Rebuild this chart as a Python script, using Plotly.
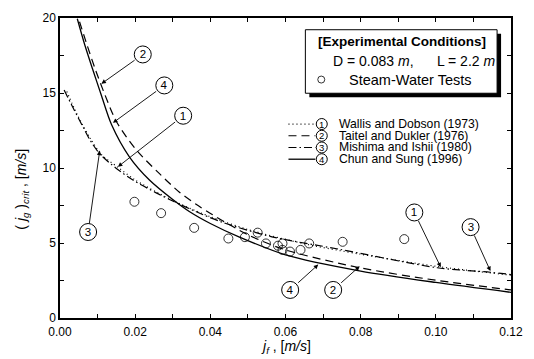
import plotly.graph_objects as go

# ---------------- data ----------------
jf_exp = [0.0198, 0.0269, 0.0357, 0.0448, 0.0492, 0.0526, 0.0548, 0.0580, 0.0592, 0.0592,
          0.0612, 0.0640, 0.0663, 0.0752, 0.0916]
jg_exp = [7.75, 6.99, 6.01, 5.30, 5.39, 5.69, 4.97, 4.82, 4.97, 4.54,
          4.43, 4.54, 4.97, 5.08, 5.26]

# (1) Wallis and Dobson (1973)
wd_x = [0.0018, 0.0045, 0.0080, 0.0110, 0.0154, 0.0200, 0.0260, 0.0320, 0.0400, 0.0500,
        0.0650, 0.0800, 0.1000, 0.1200]
wd_y = [15.1, 13.6, 12.0, 10.9, 10.05, 9.2, 8.35, 7.6, 6.75, 5.9,
        4.95, 4.25, 3.45, 2.85]
# (2) Taitel and Dukler (1976)
td_x = [0.0052, 0.0072, 0.0095, 0.0120, 0.0150, 0.0203, 0.0264, 0.0317, 0.0361, 0.0405,
        0.0500, 0.0600, 0.0800, 0.1000, 0.1200]
td_y = [19.75, 18.2, 16.5, 14.85, 13.1, 11.2, 9.64, 8.4, 7.6, 6.9,
        5.55, 4.54, 3.34, 2.52, 1.87]
# (3) Mishima and Ishii (1980)
mi_x = [0.0011, 0.0031, 0.0062, 0.0079, 0.0106, 0.0150, 0.0194, 0.0256, 0.0300, 0.0361,
        0.0432, 0.0564, 0.0740, 0.1004, 0.1145, 0.1200]
mi_y = [15.2, 14.2, 12.7, 11.9, 10.94, 9.97, 9.2, 8.34, 7.8, 7.1,
        6.38, 5.41, 4.6, 3.35, 3.05, 2.9]
# (4) Chun and Sung (1996)
cs_x = [0.0046, 0.0066, 0.0088, 0.0110, 0.0137, 0.0185, 0.0238, 0.0300, 0.0344, 0.0400,
        0.0476, 0.0600, 0.0800, 0.1000, 0.1200]
cs_y = [19.95, 18.2, 16.5, 14.85, 12.9, 10.73, 9.2, 7.9, 7.1, 6.3,
        5.41, 4.21, 3.13, 2.37, 1.71]

curve_ids = ["1", "2", "3", "4"]
curve_names = ["Wallis and Dobson (1973)", "Taitel and Dukler (1976)",
               "Mishima and Ishii (1980)", "Chun and Sung (1996)"]

x_tickvals = [0.00, 0.02, 0.04, 0.06, 0.08, 0.10, 0.12]
x_ticktext = ["0.00", "0.02", "0.04", "0.06", "0.08", "0.10", "0.12"]
y_tickvals = [0, 5, 10, 15, 20]
y_ticktext = ["0", "5", "10", "15", "20"]

# ---------------- layout helpers ----------------
W, H = 534, 359
L, R, T, B = 60, 514, 11, 318
XMAX, YMAX = 0.12, 20.0
FONT = "Liberation Sans, Arial, Helvetica, sans-serif"


def px2x(px):
    return (px - L) / (R - L) * XMAX


def py2y(py):
    return (B - py) / (B - T) * YMAX


styles = [
    dict(dash="1px,3px", width=1.2),
    dict(dash="8px,5px", width=1.2),
    dict(dash="8px,3px,1.5px,3px", width=1.2),
    dict(dash="solid", width=1.3),
]
curves = [(wd_x, wd_y), (td_x, td_y), (mi_x, mi_y), (cs_x, cs_y)]

fig = go.Figure()
for (cx, cy), st, nm in zip(curves, styles, curve_names):
    fig.add_trace(go.Scatter(
        x=cx, y=cy, mode="lines", name=nm, showlegend=False,
        line=dict(color="black", width=st["width"], dash=st["dash"],
                  shape="spline", smoothing=0.8)))

fig.add_trace(go.Scatter(
    x=jf_exp, y=jg_exp, mode="markers", name="Steam-Water Tests", showlegend=False,
    marker=dict(symbol="circle-open", size=9, color="black", line=dict(width=0.8))))

shapes = []
annotations = []

# circled callouts: (label, circle px, arrow tip px)
callouts = [
    ("2", (143.3, 48.3), (101.7, 78.3)),
    ("4", (165.0, 80.0), (113.3, 118.3)),
    ("1", (184.0, 111.0), (118.3, 163.3)),
    ("3", (88.3, 230.0), (100.0, 146.7)),
    ("1", (416.7, 210.0), (443.3, 266.0)),
    ("3", (473.3, 225.0), (493.3, 270.0)),
    ("4", (291.7, 289.3), (320.0, 263.3)),
    ("2", (335.0, 289.3), (361.7, 265.0)),
]
RC = 8.5
for lab, (cx, cy), (tx, ty) in callouts:
    shapes.append(dict(
        type="circle", xref="x", yref="y", xsizemode="pixel", ysizemode="pixel",
        xanchor=px2x(cx), yanchor=py2y(cy), x0=-RC, x1=RC, y0=-RC, y1=RC,
        line=dict(color="black", width=1), fillcolor="white", layer="above"))
    annotations.append(dict(
        x=px2x(tx), y=py2y(ty), ax=px2x(cx), ay=py2y(cy), axref="x", ayref="y",
        xref="x", yref="y", text=lab, width=12, height=12, borderpad=0,
        showarrow=True, arrowhead=2, arrowsize=1,
        arrowwidth=0.9, arrowcolor="black", startstandoff=2, standoff=0,
        font=dict(size=11.5, color="black", family=FONT)))

# manual legend for the correlations
for i, (cid, nm, st) in enumerate(zip(curve_ids, curve_names, styles)):
    ry = 119.5 + 12 * i
    shapes.append(dict(
        type="line", xref="x", yref="y", x0=px2x(290), x1=px2x(317),
        y0=py2y(ry), y1=py2y(ry),
        line=dict(color="black", width=st["width"], dash=st["dash"])))
    shapes.append(dict(
        type="circle", xref="x", yref="y", xsizemode="pixel", ysizemode="pixel",
        xanchor=px2x(323.5), yanchor=py2y(ry), x0=-5.5, x1=5.5, y0=-5.5, y1=5.5,
        line=dict(color="black", width=1), fillcolor="white", layer="above"))
    annotations.append(dict(
        x=px2x(323.5), y=py2y(ry), xref="x", yref="y", text=cid, showarrow=False,
        font=dict(size=9.5, color="black", family=FONT), xanchor="center", yanchor="middle"))
    annotations.append(dict(
        x=px2x(339), y=py2y(ry), xref="x", yref="y", text=nm, showarrow=False,
        font=dict(size=12.2, color="black", family=FONT), xanchor="left", yanchor="middle"))

# experimental-conditions box with shadow
shapes.append(dict(type="rect", xref="x", yref="y",
                   x0=px2x(311), x1=px2x(504), y0=py2y(92), y1=py2y(27),
                   line=dict(color="black", width=0), fillcolor="black", layer="above"))
shapes.append(dict(type="rect", xref="x", yref="y",
                   x0=px2x(307), x1=px2x(500), y0=py2y(88), y1=py2y(23),
                   line=dict(color="black", width=1), fillcolor="white", layer="above"))
annotations.append(dict(x=px2x(404), y=py2y(35), xref="x", yref="y",
                        text="<b>[Experimental Conditions]</b>", showarrow=False,
                        font=dict(size=13.5, color="black", family=FONT),
                        xanchor="center", yanchor="middle"))
annotations.append(dict(x=px2x(416), y=py2y(55), xref="x", yref="y",
                        text="D = 0.083 <i>m</i>,\u00a0\u00a0\u00a0\u00a0\u00a0\u00a0L = 2.2 <i>m</i>",
                        showarrow=False, font=dict(size=14, color="black", family=FONT),
                        xanchor="center", yanchor="middle"))
shapes.append(dict(type="circle", xref="x", yref="y", xsizemode="pixel", ysizemode="pixel",
                   xanchor=px2x(323), yanchor=py2y(74), x0=-3.5, x1=3.5, y0=-3.5, y1=3.5,
                   line=dict(color="black", width=0.8), fillcolor="white", layer="above"))
annotations.append(dict(x=px2x(349), y=py2y(74), xref="x", yref="y",
                        text="Steam-Water Tests", showarrow=False,
                        font=dict(size=14.5, color="black", family=FONT),
                        xanchor="left", yanchor="middle"))

# axis titles
annotations.append(dict(x=-0.085, y=0.43, xref="paper", yref="paper",
                        text="( <i>j<sub>g</sub></i> )<sub><i>crit</i></sub> , [<i>m/s</i>]",
                        textangle=-90, showarrow=False,
                        font=dict(size=14, color="black", family=FONT),
                        xanchor="center", yanchor="middle"))
annotations.append(dict(x=0.5, y=-0.098, xref="paper", yref="paper",
                        text="<i>j<sub>f</sub></i> , [<i>m/s</i>]", showarrow=False,
                        font=dict(size=14, color="black", family=FONT),
                        xanchor="center", yanchor="middle"))

axis_common = dict(showgrid=False, zeroline=False, showline=True, linecolor="black",
                   linewidth=1.5, mirror="allticks", ticks="inside", ticklen=4,
                   tickwidth=1, tickcolor="black",
                   tickfont=dict(size=12, color="black", family=FONT))

fig.update_layout(
    width=W, height=H,
    margin=dict(l=L, r=W - R, t=T, b=H - B),
    paper_bgcolor="white", plot_bgcolor="white",
    font=dict(family=FONT, color="black"),
    shapes=shapes, annotations=annotations,
    xaxis=dict(range=[0, XMAX], tickvals=x_tickvals, ticktext=x_ticktext,
               ticklabelstandoff=2,
               minor=dict(dtick=0.01, ticks="inside", ticklen=4, tickcolor="black"),
               **axis_common),
    yaxis=dict(range=[0, YMAX], tickvals=y_tickvals, ticktext=y_ticktext,
               minor=dict(dtick=2.5, ticks="inside", ticklen=4, tickcolor="black"),
               **axis_common),
)

fig.write_html("out.html", config={"displayModeBar": False},
               post_script="document.body.style.margin='0';document.body.style.overflow='hidden';")
